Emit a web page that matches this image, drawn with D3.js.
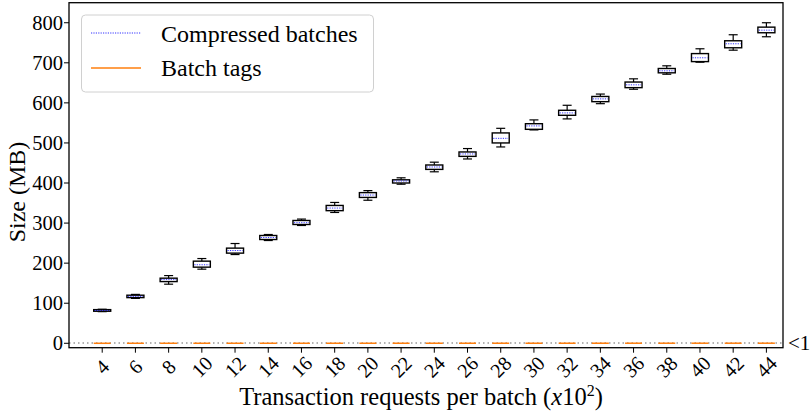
<!DOCTYPE html>
<html><head><meta charset="utf-8">
<script src="https://cdn.jsdelivr.net/npm/d3@7"></script>
<style>body{margin:0;background:#fff}svg{display:block}</style>
</head><body>
<svg id="c" width="811" height="417"></svg>
<script>
// ---- data ----
const categories = ["4","6","8","10","12","14","16","18","20","22","24","26","28","30","32","34","36","38","40","42","44"];
// Compressed batches (MB): whisker low, q1, median, q3, whisker high
const cbLow  = [79,112,147.5,185,221.5,256.5,294,326.5,357,397,428,460,490,532.5,560,598,634,671.5,701.5,731.5,765];
const cbQ1   = [80,114,154,190,225,259,296.5,331,364,400,434,466.5,500,534,569,603,638,675,703,737.5,775];
const cbMed  = [82,117,159,196,231.5,264,301,337.5,370,405,440,472.5,511.5,542.5,575,610,645,680,712.5,747.5,781.5];
const cbQ3   = [84,120,162.5,205,237.5,269,306.5,344,376,408,445,477.5,525,548,581.5,616,652,685.8,723,755,789];
const cbHigh = [85,122,169,211.5,249,271.5,310,351.5,381,413,452,486,536.5,557.5,594,622,660,692.5,735,770,800];
// Batch tags (MB): all below 1 MB
const tagMed = [0.02,0.03,0.04,0.05,0.06,0.07,0.08,0.09,0.1,0.11,0.12,0.13,0.14,0.15,0.16,0.17,0.18,0.19,0.2,0.21,0.22];
const yTicks = [0,100,200,300,400,500,600,700,800];
const thresholdMB = 1;

// ---- layout ----
const svg = d3.select("#c");
const L = 69, R = 783, T = 2.7, B = 347.7;
const FONT = "'Liberation Serif', 'Times New Roman', serif";
const y = d3.scaleLinear().domain([-11, 850]).range([B, T]);
const x = d3.scaleLinear().domain([-1, 20.5]).range([L, R]);
const boxW = 17, capW = 9;

// threshold dotted line
svg.append("line").attr("x1", L).attr("x2", R)
  .attr("y1", y(thresholdMB)).attr("y2", y(thresholdMB))
  .attr("stroke", "#999").attr("stroke-width", 1.5).attr("stroke-dasharray", "1.5,3");
svg.append("text").attr("x", R + 5).attr("y", y(thresholdMB)).attr("dy", "0.35em")
  .attr("font-family", FONT).attr("font-size", 21).text("<1");

// batch tags
svg.append("g").selectAll("line").data(tagMed).join("line")
  .attr("x1", (d,i) => x(i) - boxW/2).attr("x2", (d,i) => x(i) + boxW/2)
  .attr("y1", d => y(d)).attr("y2", d => y(d))
  .attr("stroke", "#ff7f0e").attr("stroke-width", 1.5);

// compressed batch boxes
const g = svg.append("g");
categories.forEach((c, i) => {
  const cx = x(i);
  const gg = g.append("g");
  gg.append("line").attr("x1", cx).attr("x2", cx).attr("y1", y(cbHigh[i])).attr("y2", y(cbQ3[i])).attr("stroke", "#000").attr("stroke-width", 1.2);
  gg.append("line").attr("x1", cx).attr("x2", cx).attr("y1", y(cbQ1[i])).attr("y2", y(cbLow[i])).attr("stroke", "#000").attr("stroke-width", 1.2);
  gg.append("line").attr("x1", cx - capW/2).attr("x2", cx + capW/2).attr("y1", y(cbHigh[i])).attr("y2", y(cbHigh[i])).attr("stroke", "#000").attr("stroke-width", 1.2);
  gg.append("line").attr("x1", cx - capW/2).attr("x2", cx + capW/2).attr("y1", y(cbLow[i])).attr("y2", y(cbLow[i])).attr("stroke", "#000").attr("stroke-width", 1.2);
  gg.append("rect").attr("x", cx - boxW/2).attr("y", y(cbQ3[i])).attr("width", boxW)
    .attr("height", Math.max(0.5, y(cbQ1[i]) - y(cbQ3[i]))).attr("fill", "#fff").attr("stroke", "#000").attr("stroke-width", 1.4);
  gg.append("line").attr("x1", cx - boxW/2 + 1).attr("x2", cx + boxW/2 - 1).attr("y1", y(cbMed[i])).attr("y2", y(cbMed[i]))
    .attr("stroke", "#3333ff").attr("stroke-width", 1).attr("stroke-dasharray", "1.2,1.2");
});

// frame
svg.append("rect").attr("x", L).attr("y", T).attr("width", R - L).attr("height", B - T)
  .attr("fill", "none").attr("stroke", "#000").attr("stroke-width", 1.3);

// y axis
const ya = svg.append("g");
yTicks.forEach(t => {
  ya.append("line").attr("x1", L - 5).attr("x2", L).attr("y1", y(t)).attr("y2", y(t)).attr("stroke", "#000").attr("stroke-width", 1);
  ya.append("text").attr("x", L - 6).attr("y", y(t)).attr("dy", "0.35em").attr("text-anchor", "end")
    .attr("font-family", FONT).attr("font-size", 20.5).text(t);
});
svg.append("text").attr("transform", `translate(25,192) rotate(-90)`).attr("text-anchor", "middle")
  .attr("font-family", FONT).attr("font-size", 24).text("Size (MB)");

// x axis
const xa = svg.append("g");
categories.forEach((c, i) => {
  xa.append("line").attr("x1", x(i)).attr("x2", x(i)).attr("y1", B).attr("y2", B + 5).attr("stroke", "#000").attr("stroke-width", 1);
  xa.append("text").attr("transform", `translate(${x(i)},${B + 19}) rotate(-45)`)
    .attr("text-anchor", "middle").attr("dy", "0.35em")
    .attr("font-family", FONT).attr("font-size", 20).text(c);
});
const xl = svg.append("text").attr("x", 421).attr("y", 405).attr("text-anchor", "middle")
  .attr("font-family", FONT).attr("font-size", 24.5);
xl.append("tspan").text("Transaction requests per batch (");
xl.append("tspan").attr("font-style", "italic").text("x");
xl.append("tspan").text("10");
xl.append("tspan").attr("font-size", 16).attr("dy", -9).text("2");
xl.append("tspan").attr("dy", 9).text(")");

// legend
const lg = svg.append("g");
lg.append("rect").attr("x", 81.5).attr("y", 15).attr("width", 292).attr("height", 77).attr("rx", 4)
  .attr("fill", "#fff").attr("fill-opacity", 0.8).attr("stroke", "#d0d0d0").attr("stroke-width", 1);
lg.append("line").attr("x1", 91).attr("x2", 141).attr("y1", 33).attr("y2", 33)
  .attr("stroke", "#3333ff").attr("stroke-width", 1).attr("stroke-dasharray", "1.2,1.2");
lg.append("line").attr("x1", 91).attr("x2", 141).attr("y1", 68).attr("y2", 68)
  .attr("stroke", "#ff7f0e").attr("stroke-width", 1.5);
lg.append("text").attr("x", 161).attr("y", 41.5).attr("font-family", FONT).attr("font-size", 24).text("Compressed batches");
lg.append("text").attr("x", 161).attr("y", 76).attr("font-family", FONT).attr("font-size", 24).text("Batch tags");
</script>
</body></html>
